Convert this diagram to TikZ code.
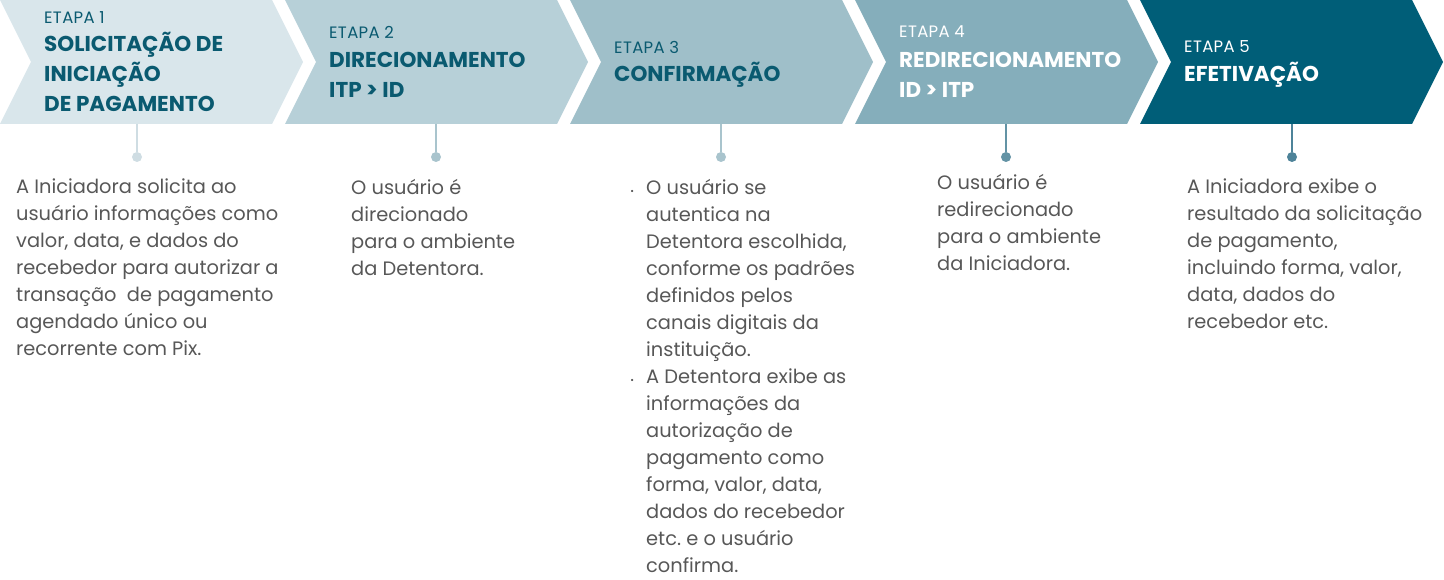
\documentclass[tikz,border=0pt]{standalone}
\usepackage{fontspec}
\setmainfont{Poppins}
\newfontfamily\etapafont[LetterSpace=2]{Poppins}
\usetikzlibrary{positioning,calc}
\frenchspacing

\definecolor{etapaA}{HTML}{D9E6EB}
\definecolor{etapaB}{HTML}{B7D0D8}
\definecolor{etapaC}{HTML}{9FBFC9}
\definecolor{etapaD}{HTML}{85AEBB}
\definecolor{etapaE}{HTML}{005E78}
\definecolor{tituloCor}{HTML}{0A5A70}
\definecolor{textoCor}{HTML}{575757}
\definecolor{pontoA}{HTML}{CFDDE3}
\definecolor{pontoB}{HTML}{A9C4CD}
\definecolor{pontoC}{HTML}{A9C4CD}
\definecolor{pontoD}{HTML}{6393A5}
\definecolor{pontoE}{HTML}{4E8399}

\begin{document}
\begin{tikzpicture} [
					x=1pt,y=-1pt,
					etapa/.style={anchor=west,inner sep=0,font=\etapafont\fontsize{16.5}{16.5}\selectfont},
					titulo/.style={anchor=north west,align=left,inner sep=0,font=\bfseries\fontsize{21.5}{30}\selectfont},
					texto/.style={anchor=north west,align=left,inner sep=0,text=textoCor,font=\fontsize{19.4}{27}\selectfont},
					ponto/.style={circle,fill,inner sep=0,minimum size=10pt},
					haste/.style={line width=2pt},
				]
				\useasboundingbox (0,0) rectangle (1444,580);
				
				% setas das etapas
				\foreach \i/\cor in {0/etapaA,1/etapaB,2/etapaC,3/etapaD,4/etapaE}
					\fill[\cor] ({285*\i},0) -- ++(272,0) -- ++(31,62) -- ++(-31,62) -- ++(-272,0) -- ++(31,-62) -- cycle;
				
				\node[etapa,text=tituloCor] (e1) at (44,18) {ETAPA 1};
				\node[titulo,text=tituloCor] (t1) at (44,32) {SOLICITAÇÃO DE\\INICIAÇÃO\\DE PAGAMENTO};
				\node[etapa,text=tituloCor] (e2) at (329,32) {ETAPA 2};
				\node[titulo,text=tituloCor] (t2) at (329,52) {DIRECIONAMENTO\\ITP > ID};
				\node[etapa,text=tituloCor] (e3) at (614,47) {ETAPA 3};
				\node[titulo,text=tituloCor] (t3) at (614,62) {CONFIRMAÇÃO};
				\node[etapa,text=white] (e4) at (899,32) {ETAPA 4};
				\node[titulo,text=white] (t4) at (899,52) {REDIRECIONAMENTO\\ID > ITP};
				\node[etapa,text=white] (e5) at (1184,47) {ETAPA 5};
				\node[titulo,text=white] (t5) at (1184,62) {EFETIVAÇÃO};
				
				% hastes e pontos
				\foreach \n/\x/\cor in {1/137/pontoA,2/436/pontoB,3/721/pontoC,4/1006/pontoD,5/1292/pontoE}{
					\coordinate (b\n) at (\x,124);
					\node[ponto,\cor] (p\n) at (\x,157) {};
					\draw[haste,\cor] (b\n) -- (p\n);
				}
				
				% textos
				\node[texto] (x1) at (16,179) {A Iniciadora solicita ao\\usuário informações como\\valor, data, e dados do\\recebedor para autorizar a\\transação\ \ de pagamento\\agendado único ou\\recorrente com Pix.};
				\node[texto] (x2) at (351,179) {O usuário é\\direcionado\\para o ambiente\\da Detentora.};
				\node[texto] (x3) at (646,179) {\llap{\small•\hspace{12pt}}O usuário se\\autentica na\\Detentora escolhida,\\conforme os padrões\\definidos pelos\\canais digitais da\\instituição.\\\llap{\small•\hspace{12pt}}A Detentora exibe as\\informações da\\autorização de\\pagamento como\\forma, valor, data,\\dados do recebedor\\etc. e o usuário\\confirma.};
				\node[texto] (x4) at (937,174) {O usuário é\\redirecionado\\para o ambiente\\da Iniciadora.};
				\node[texto] (x5) at (1187,179) {A Iniciadora exibe o\\resultado da solicitação\\de pagamento,\\incluindo forma, valor,\\data, dados do\\recebedor etc.};
				
			\end{tikzpicture}
\end{document}
